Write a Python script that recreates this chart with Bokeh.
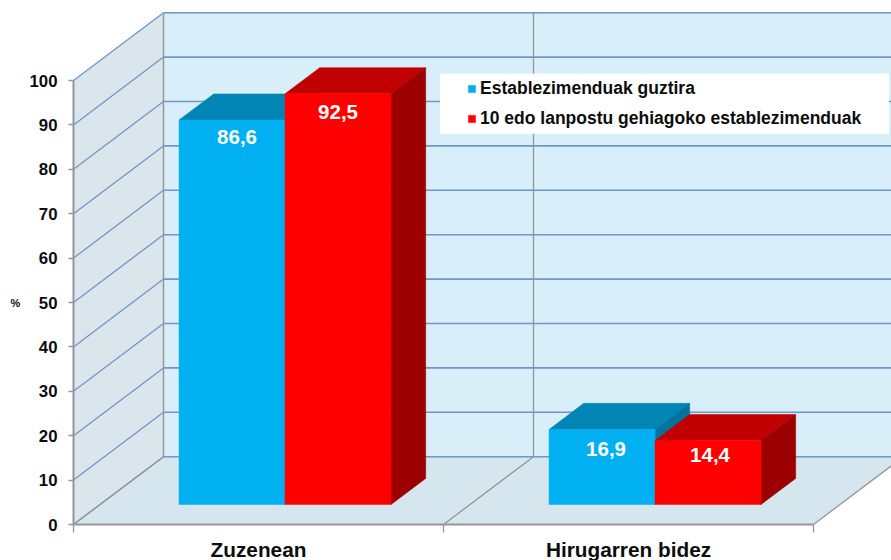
from bokeh.embed import file_html
from bokeh.resources import INLINE
from bokeh.plotting import figure
from bokeh.models import Range1d, FixedTicker, Legend, LegendItem, ColumnDataSource
from bokeh.core.properties import value

categories = ["Zuzenean", "Hirugarren bidez"]
series_names = ["Establezimenduak guztira", "10 edo lanpostu gehiagoko establezimenduak"]
total_values = [86.6, 16.9]
large_values = [92.5, 14.4]
y_ticks = [0, 10, 20, 30, 40, 50, 60, 70, 80, 90, 100]

PX_X = 370.0   # pixels per category
PX_Y = 4.44    # pixels per percent
DX = 90 / PX_X   # wall depth along x
DY = 67.8 / PX_Y # wall depth along y
BAR_W = 106 / PX_X
GAP = (1 - 2 * BAR_W) / 2
D0, D1 = 0.295, 0.68  # bar depth span
FONT = "Liberation Sans"
XMIN = -73 / PX_X
XMAX = 818 / PX_X
YMIN = -36 / PX_Y
YMAX = 516 / PX_Y

p = figure(width=891, height=560, output_backend="svg", toolbar_location=None,
           x_range=Range1d(XMIN, XMAX), y_range=Range1d(YMIN, YMAX),
           frame_width=891, frame_height=552,
           min_border_left=0, min_border_right=0, min_border_top=8, min_border_bottom=0,
           outline_line_color=None, background_fill_color="white", border_fill_color="white")
p.grid.visible = False


def P(x, v, d):
    return x + d * DX, v + d * DY


def poly(points, color):
    xs, ys = zip(*[P(*pt) for pt in points])
    p.patch(list(xs), list(ys), fill_color=color, line_color=color, line_width=0.5)


def seg(a, b, color, lw):
    xa, ya = P(*a)
    xb, yb = P(*b)
    p.line([xa, xb], [ya, yb], line_color=color, line_width=lw)


WALL, BACK, FLOOR = "#DAE6EC", "#D8EFFA", "#D6E6EE"
GRID, GRAY = "#6F95C9", "#969696"
XEND = 2.1 + DX

poly([(0, 0, 0), (0, 0, 1), (0, 100, 1), (0, 100, 0)], WALL)
poly([(0, 0, 1), (XEND, 0, 1), (XEND, 100, 1), (0, 100, 1)], BACK)
poly([(0, 0, 0), (2, 0, 0), (2, 0, 1), (0, 0, 1)], FLOOR)

for t in y_ticks:
    seg((0, t, 0), (0, t, 1), GRID, 1.3)
    seg((0, t, 1), (XEND, t, 1), GRID, 1.6)
seg((0, 0, 1), (0, 100, 1), GRAY, 1.5)
seg((1, 0, 1), (1, 100, 1), GRAY, 1.3)
for x in (0, 1, 2):
    seg((x, 0, 0), (x, 0, 1), GRAY, 1.3)


def bar(x, v, front, top, side):
    r = x + BAR_W
    poly([(x, v, D0), (x, v, D1), (r, v, D1), (r, v, D0)], top)
    poly([(r, 0, D0), (r, 0, D1), (r, v, D1), (r, v, D0)], side)
    x0, y0 = P(x, 0, D0)
    x1, y1 = P(r, v, D0)
    return p.quad(left=[x0], right=[x1], bottom=[y0], top=[y1], fill_color=front, line_color=front, line_width=0.5)


BLUE = ("#00B0F0", "#0085B5", "#00749E")
RED = ("#FF0000", "#C00000", "#9C0000")
label_x, label_y, label_text = [], [], []
blue_r = red_r = None
for i in range(2):
    xb = i + GAP
    xr = xb + BAR_W
    blue_r = bar(xb, total_values[i], *BLUE)
    red_r = bar(xr, large_values[i], *RED)
    for x, v in ((xb, total_values[i]), (xr, large_values[i])):
        lx, ly = P(x + BAR_W / 2, v, D0)
        label_x.append(lx)
        label_y.append(ly)
        label_text.append(f"{v:.1f}".replace(".", ","))

# pixel nudges relative to each bar's top edge centre
off_y = [17, 18, 20, 14]
off_x = [5, 0, 4, 2]
src = ColumnDataSource(dict(x=label_x, y=label_y, t=label_text, o=off_y, h=off_x))
p.text("x", "y", text="t", x_offset="h", y_offset="o", source=src, text_color="white", text_align="center",
       text_baseline="middle", text_font=value(FONT), text_font_style="bold", text_font_size="20.5px")

# legend panel
lx0, lx1 = (440 - 73) / PX_X, (888 - 73) / PX_X
ly0, ly1 = (524.3 - 133) / PX_Y, (524.3 - 74) / PX_Y
p.quad(left=[lx0], right=[lx1], bottom=[ly0], top=[ly1], fill_color="white", line_color="white")

legend = Legend(items=[LegendItem(label=series_names[0], renderers=[blue_r]),
                       LegendItem(label=series_names[1], renderers=[red_r])],
                location=(467, 431), orientation="vertical", background_fill_alpha=0,
                border_line_color=None, padding=0, margin=0, spacing=9,
                glyph_width=9, glyph_height=9, label_standoff=4, label_height=20,
                label_text_font=FONT, label_text_font_style="bold", label_text_font_size="17.5px",
                label_text_color="#0D0D0D")
p.add_layout(legend)

# axis unit, in the empty strip left of the tick labels
p.text(x=[-58 / PX_X], y=[50], text=["%"], text_align="center", text_baseline="middle",
       text_font=value(FONT), text_font_style="bold", text_font_size="11px", text_color="#0D0D0D")

# axes
ya = p.yaxis[0]
ya.fixed_location = 0
ya.bounds = (0, 100)
ya.ticker = FixedTicker(ticks=y_ticks)
ya.axis_line_color = GRAY
ya.axis_line_width = 2
ya.major_tick_line_color = GRAY
ya.major_tick_line_width = 1.5
ya.major_tick_out = 5
ya.major_tick_in = 0
ya.minor_tick_line_color = None
ya.major_label_text_font = FONT
ya.major_label_text_font_style = "bold"
ya.major_label_text_font_size = "16.8px"
ya.major_label_text_color = "#0D0D0D"
ya.major_label_standoff = 11

xa = p.xaxis[0]
xa.fixed_location = 0
xa.bounds = (0, 2)
xa.ticker = FixedTicker(ticks=[0.5, 1.5], minor_ticks=[0, 1, 2])
xa.major_label_overrides = {0.5: categories[0], 1.5: categories[1]}
xa.axis_line_color = GRAY
xa.axis_line_width = 2
xa.major_tick_line_color = None
xa.major_tick_out = 0
xa.major_tick_in = 0
xa.minor_tick_line_color = GRAY
xa.minor_tick_line_width = 1.3
xa.minor_tick_out = 8
xa.minor_tick_in = 0
xa.major_label_text_font = FONT
xa.major_label_text_font_style = "bold"
xa.major_label_text_font_size = "20.8px"
xa.major_label_text_color = "#0D0D0D"
xa.major_label_standoff = 5

open("out.html", "w").write(file_html(p, INLINE))
